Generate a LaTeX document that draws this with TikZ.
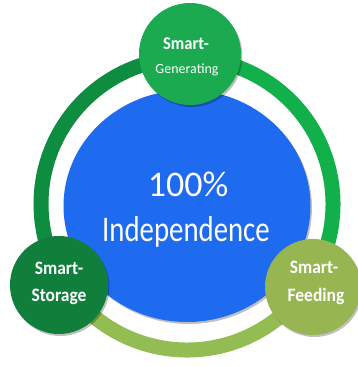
\documentclass[tikz,border=0pt]{standalone}
\usepackage{fontspec}
\usepackage{graphicx}
\setmainfont{Carlito}
\usetikzlibrary{shadows,shapes.geometric}
\definecolor{cblue}{HTML}{1F6BF0}
\definecolor{ctop}{HTML}{1BAA4F}
\definecolor{cstore}{HTML}{117F3C}
\definecolor{cfeed}{HTML}{97B551}
\definecolor{rleft}{HTML}{0E8C3F}
\definecolor{rright}{HTML}{12B04B}
\definecolor{rbottom}{HTML}{93BC52}
\begin{document}
\begin{tikzpicture}[x=1pt,y=1pt,
  ring/.style={line width=15pt},
  bubble/.style={draw=none, inner sep=0pt,
    drop shadow={shadow xshift=1.5pt, shadow yshift=-2pt, opacity=0.25, fill=black}},
  wtext/.style={text=white, anchor=base, inner sep=0pt}]
\useasboundingbox (0,0) rectangle (358,367);
% ring
\draw[ring, rleft] (187,163) ++(90:146) arc[start angle=90, end angle=212, radius=146];
\draw[ring, rright] (187,163) ++(-34:146) arc[start angle=-34, end angle=91, radius=146];
\draw[ring, rbottom] (187,163) ++(210:146) arc[start angle=210, end angle=328, radius=146];
% centre
\node[bubble, ellipse, fill=cblue, minimum width=247pt, minimum height=232pt] (core) at (187,161) {};
\node[wtext, font=\fontsize{36}{40}\selectfont] (pct) at (188,170) {100\%};
\node[wtext, font=\fontsize{36}{40}\selectfont] (ind) at (186,125) {\scalebox{0.8}[1]{Independence}};
% satellites
\node[bubble, circle, fill=ctop, minimum size=102pt] (gen) at (190,313) {};
\node[bubble, circle, fill=cstore, minimum size=98pt] (sto) at (59,82) {};
\node[bubble, circle, fill=cfeed, minimum size=96pt] (fee) at (313,80) {};
\node[wtext, font=\bfseries\fontsize{18}{22}\selectfont] (g1) at (186,317) {\scalebox{0.92}[1]{Smart-}};
\node[wtext, font=\fontsize{14}{16}\selectfont] (g2) at (187,293) {Generating};
\node[wtext, font=\bfseries\fontsize{19}{24}\selectfont] (s1) at (59,92) {\scalebox{0.92}[1]{Smart-}};
\node[wtext, font=\bfseries\fontsize{19}{24}\selectfont] (s2) at (59,65) {\scalebox{0.92}[1]{Storage}};
\node[wtext, font=\bfseries\fontsize{19}{24}\selectfont] (f1) at (314,93) {\scalebox{0.92}[1]{Smart-}};
\node[wtext, font=\bfseries\fontsize{19}{24}\selectfont] (f2) at (316,65) {\scalebox{0.92}[1]{Feeding}};
\end{tikzpicture}
\end{document}
